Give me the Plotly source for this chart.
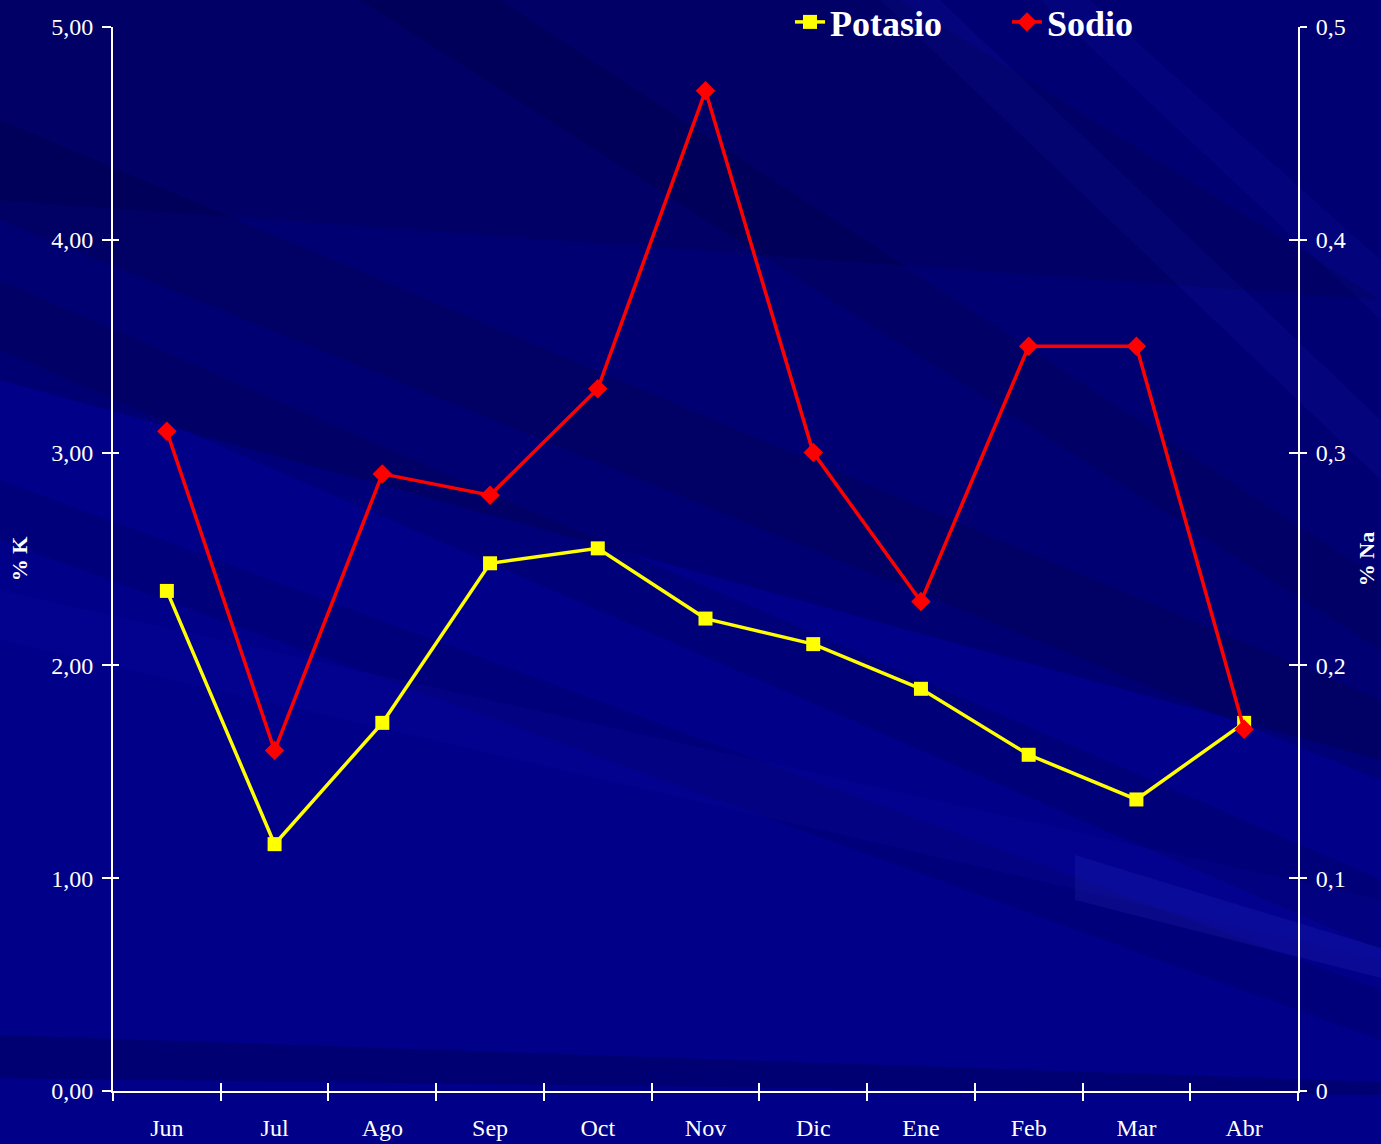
import plotly.graph_objects as go

# ---------------- data ----------------
months = ["Jun", "Jul", "Ago", "Sep", "Oct", "Nov", "Dic", "Ene", "Feb", "Mar", "Abr"]
potasio = [2.35, 1.16, 1.73, 2.48, 2.55, 2.22, 2.10, 1.89, 1.58, 1.37, 1.73]   # % K (left axis)
sodio = [0.31, 0.16, 0.29, 0.28, 0.33, 0.47, 0.30, 0.23, 0.35, 0.35, 0.17]     # % Na (right axis)
k_range = [0, 5]
na_range = [0, 0.5]

# ---------------- geometry ----------------
W, H = 1381, 1144
L, R, T, B = 113, 83, 27, 53
PW, PH = W - L - R, H - T - B
FONT = "Liberation Serif"


def to_paper(px, py):
    return (px - L) / PW, (H - B - py) / PH


def poly(points):
    pts = [to_paper(x, y) for x, y in points]
    return "M " + " L ".join(f"{x:.4f},{y:.4f}" for x, y in pts) + " Z"


# decorative background streaks (pixel polygons, colour)
bg_polys = [
    ([(0, 0), (1381, 0), (1381, 760), (0, 380)], "rgba(0,0,40,0.22)"),
    ([(0, 0), (900, 0), (1381, 300), (0, 200)], "rgba(0,0,30,0.14)"),
    ([(0, 120), (1381, 700), (1381, 780), (0, 220)], "rgba(0,0,30,0.15)"),
    ([(0, 280), (1381, 880), (1381, 950), (0, 350)], "rgba(0,0,40,0.16)"),
    ([(0, 480), (1381, 990), (1381, 1040), (0, 540)], "rgba(0,0,40,0.14)"),
    ([(0, 590), (1381, 900), (1381, 960), (0, 640)], "rgba(20,20,190,0.12)"),
    ([(0, 1035), (1381, 1082), (1381, 1095), (0, 1078)], "rgba(0,0,40,0.22)"),
    ([(1075, 855), (1381, 948), (1381, 978), (1075, 900)], "rgba(60,60,220,0.16)"),
    ([(880, 0), (940, 0), (1381, 420), (1381, 480)], "rgba(30,30,200,0.12)"),
    ([(1040, 0), (1090, 0), (1381, 260), (1381, 320)], "rgba(30,30,200,0.10)"),
    ([(360, 0), (500, 0), (1381, 580), (1381, 650)], "rgba(0,0,30,0.14)"),
]
shapes = [
    dict(type="path", path=poly(p), xref="paper", yref="paper",
         fillcolor=c, line=dict(width=0), layer="below")
    for p, c in bg_polys
]

fig = go.Figure()
fig.add_trace(go.Scatter(
    x=months, y=potasio, name="Potasio", mode="lines+markers",
    line=dict(color="#FFFF00", width=3.5),
    marker=dict(symbol="square", size=14, color="#FFFF00"),
    xaxis="x", yaxis="y",
))
fig.add_trace(go.Scatter(
    x=months, y=sodio, name="Sodio", mode="lines+markers",
    line=dict(color="#FF0000", width=3.5),
    marker=dict(symbol="diamond", size=15, color="#FF0000"),
    xaxis="x", yaxis="y2",
))

n = len(months)
bounds = [i - 0.5 for i in range(n + 1)]
tickfont = dict(family=FONT, size=24, color="white")

fig.update_layout(
    width=W, height=H,
    margin=dict(l=L, r=R, t=T, b=B, pad=0, autoexpand=False),
    paper_bgcolor="#000088",
    plot_bgcolor="rgba(0,0,0,0)",
    separators=", ",
    shapes=shapes,
    showlegend=True,
    legend=dict(
        orientation="h", x=(790 - L) / PW, xanchor="left",
        y=(H - B - 22) / PH, yanchor="middle",
        font=dict(family=FONT, size=36, color="white", weight="bold"),
        bgcolor="rgba(0,0,0,0)", entrywidth=172, entrywidthmode="pixels",
    ),
    xaxis=dict(
        type="category", range=[-0.5, n - 0.5], showline=True, linecolor="white", linewidth=2,
        ticks="outside", ticklen=8, tickwidth=2, tickcolor="white", tickson="boundaries",
        tickfont=tickfont, ticklabelstandoff=14, showgrid=False, zeroline=False,
    ),
    xaxis2=dict(
        overlaying="x", anchor="y", side="bottom", range=[-0.5, n - 0.5],
        tickmode="array", tickvals=bounds, showticklabels=False,
        ticks="inside", ticklen=8, tickwidth=2, tickcolor="white",
        showline=False, showgrid=False, zeroline=False,
    ),
    yaxis=dict(
        range=k_range, dtick=1, tickformat=".2f", showline=True, linecolor="white", linewidth=2,
        ticks="outside", ticklen=9, tickwidth=2, tickcolor="white",
        tickfont=tickfont, ticklabelstandoff=4, showgrid=False, zeroline=False,
        title=dict(text="<b>% K</b>", font=dict(family=FONT, size=22, color="white"), standoff=18),
    ),
    yaxis3=dict(
        overlaying="y", side="left", anchor="x", range=k_range, dtick=1, showticklabels=False,
        ticks="inside", ticklen=6, tickwidth=2, tickcolor="white",
        showline=False, showgrid=False, zeroline=False,
    ),
    yaxis2=dict(
        overlaying="y", side="right", anchor="x", range=na_range, dtick=0.1,
        showline=True, linecolor="white", linewidth=2,
        ticks="outside", ticklen=7, tickwidth=2, tickcolor="white",
        tickfont=tickfont, ticklabelstandoff=4, showgrid=False, zeroline=False,
        title=dict(text="<b>% Na</b>", font=dict(family=FONT, size=22, color="white"), standoff=14),
    ),
    yaxis4=dict(
        overlaying="y", side="right", anchor="x", range=na_range, dtick=0.1, showticklabels=False,
        ticks="inside", ticklen=9, tickwidth=2, tickcolor="white",
        showline=False, showgrid=False, zeroline=False,
    ),
)

# invisible helper traces so the overlay tick axes are rendered
fig.add_trace(go.Scatter(x=[None], y=[None], xaxis="x2", yaxis="y3", showlegend=False, hoverinfo="skip"))
fig.add_trace(go.Scatter(x=[None], y=[None], xaxis="x2", yaxis="y4", showlegend=False, hoverinfo="skip"))

fig.write_html(
    "out.html",
    config={"displayModeBar": False},
    post_script="document.body.style.margin='0';document.body.style.overflow='hidden';",
)
